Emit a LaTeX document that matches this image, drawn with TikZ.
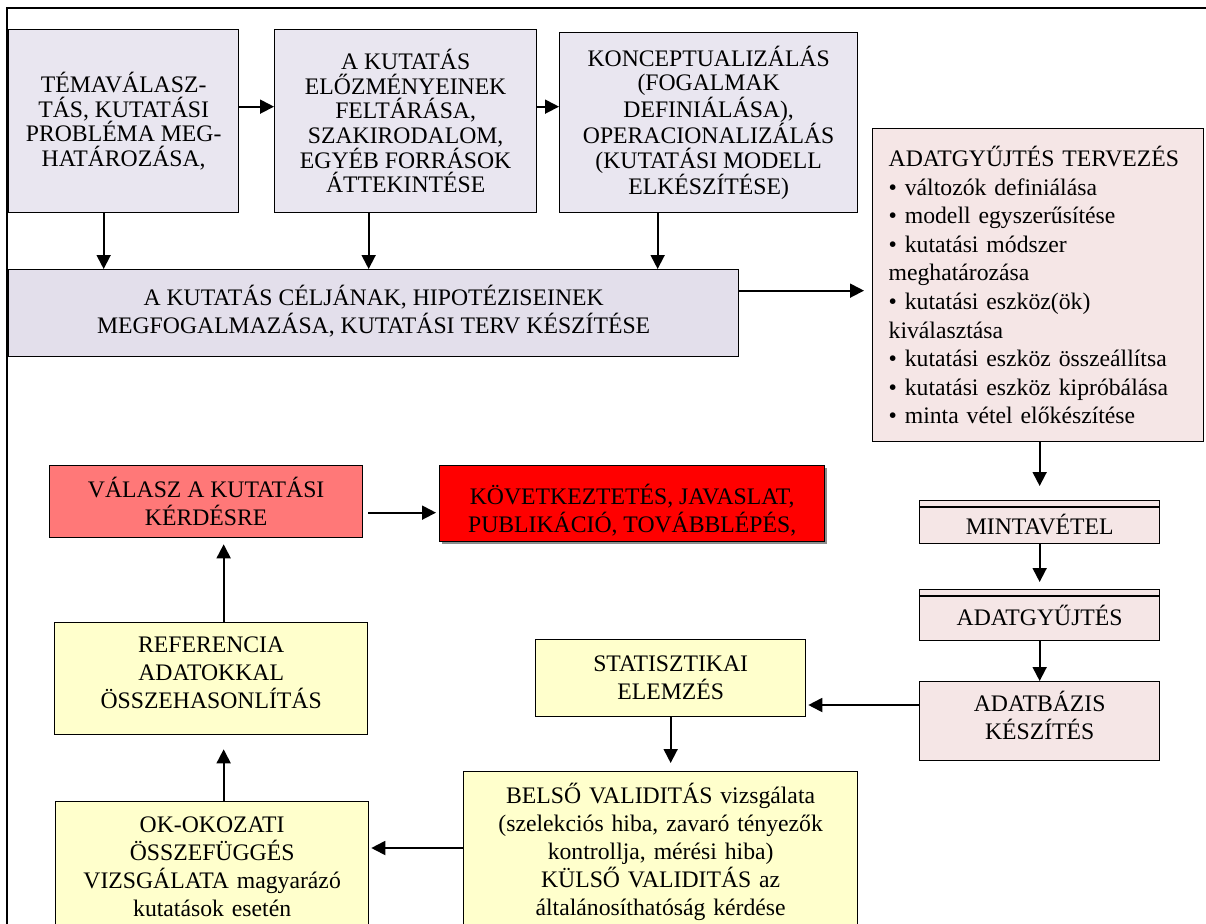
\documentclass[tikz,border=0pt]{standalone}
\usepackage{fontspec}
\setmainfont{Liberation Serif}
\usetikzlibrary{arrows.meta,shadows}
\definecolor{lavtop}{HTML}{E9E6F0}
\definecolor{lavbig}{HTML}{E3DFEB}
\definecolor{rose}{HTML}{F5E6E6}
\definecolor{salmon}{HTML}{FF7878}
\definecolor{alarm}{HTML}{FF0000}
\definecolor{cream}{HTML}{FFFFCC}
% invisible struts that move a centred text block up (depth) or down (height)
\newcommand{\lowstrut}[1]{\rule[-#1]{0pt}{0pt}}
\newcommand{\highstrut}[1]{\rule{0pt}{#1}}
\begin{document}
\begin{tikzpicture}[x=1pt,y=1pt,
  box/.style={draw=black, line width=1.3pt, inner sep=0pt, anchor=north west,
    align=center, font=\fontsize{23.7}{28}\selectfont},
  topbox/.style={box, fill=lavtop, font=\fontsize{23.7}{24.7}\selectfont},
  plan/.style={box, fill=rose},
  note/.style={box, fill=cream},
  arr/.style={line width=1.8pt, -{Triangle[length=14pt,width=14pt]}},
  frame/.style={line width=1.6pt},
]
\useasboundingbox (0,0) rectangle (1206,-923);
\clip (0,0) rectangle (1206,-923);
\draw[frame] (7,-940) -- (7,-8) -- (1220,-8);

% first row: preparation steps
\node[topbox, minimum width=230pt, minimum height=183pt] (b1) at (8,-29)
  {TÉMAVÁLASZ-\\TÁS, KUTATÁSI\\PROBLÉMA MEG-\\HATÁROZÁSA,};
\node[topbox, minimum width=262pt, minimum height=183pt] (b2) at (274,-29)
  {A KUTATÁS\\ELŐZMÉNYEINEK\\FELTÁRÁSA,\\SZAKIRODALOM,\\EGYÉB FORRÁSOK\\ÁTTEKINTÉSE};
\node[topbox, minimum width=298pt, minimum height=180pt] (b3) at (559,-32)
  {KONCEPTUALIZÁLÁS\\(FOGALMAK\\DEFINIÁLÁSA),\\OPERACIONALIZÁLÁS\\(KUTATÁSI MODELL\\ELKÉSZÍTÉSE)};
\node[box, fill=lavbig, minimum width=730pt, minimum height=87pt] (goal) at (8,-269)
  {A KUTATÁS CÉLJÁNAK, HIPOTÉZISEINEK\\MEGFOGALMAZÁSA, KUTATÁSI TERV KÉSZÍTÉSE\lowstrut{8pt}};

% data collection column
\node[plan, align=left, text width=299pt, minimum width=331pt, minimum height=313pt,
  font=\fontsize{23.7}{28.6}\selectfont] (design) at (872,-128)
  {ADATGYŰJTÉS TERVEZÉS\\• változók definiálása\\• modell egyszerűsítése\\• kutatási módszer\\meghatározása\\• kutatási eszköz(ök)\\kiválasztása\\• kutatási eszköz összeállítsa\\• kutatási eszköz kipróbálása\\• minta vétel előkészítése};
\node[plan, minimum width=240pt, minimum height=43pt, text height=25pt, text depth=0pt] (minta) at (919,-500) {MINTAVÉTEL};
\draw[line width=1.3pt] ([yshift=-7pt]minta.north west) -- ([yshift=-7pt]minta.north east);
\node[plan, minimum width=240pt, minimum height=51pt, text height=25pt, text depth=5pt] (adat) at (919,-589) {ADATGYŰJTÉS};
\draw[line width=1.3pt] ([yshift=-7pt]adat.north west) -- ([yshift=-7pt]adat.north east);
\node[plan, minimum width=240pt, minimum height=79pt] (db) at (919,-681) {ADATBÁZIS\\KÉSZÍTÉS\lowstrut{12pt}};

% analysis
\node[note, minimum width=270pt, minimum height=77pt] (stat) at (535,-639) {STATISZTIKAI\\ELEMZÉS};
\node[note, text width=380pt, inner xsep=7pt, inner ysep=3pt, text height=29pt, text depth=150pt] (belso) at (463,-771)
  {BELSŐ VALIDITÁS vizsgálata\\(szelekciós hiba, zavaró tényezők\\kontrollja, mérési hiba)\\KÜLSŐ VALIDITÁS az\\általánosíthatóság kérdése};
\node[note, text width=300pt, inner xsep=6.5pt, inner ysep=5pt, text height=26pt, text depth=150pt] (ok) at (55,-801)
  {OK-OKOZATI\\ÖSSZEFÜGGÉS\\VIZSGÁLATA magyarázó\\kutatások esetén};
\node[note, minimum width=313pt, minimum height=112pt] (ref) at (54,-622)
  {REFERENCIA\\ADATOKKAL\\ÖSSZEHASONLÍTÁS\lowstrut{13pt}};

% conclusions
\node[box, fill=salmon, minimum width=313pt, minimum height=72pt] (val) at (49,-465)
  {VÁLASZ A KUTATÁSI\\KÉRDÉSRE};
\node[box, fill=alarm, minimum width=385pt, minimum height=76pt,
  drop shadow={shadow xshift=2pt, shadow yshift=-2pt, fill=black!45, opacity=1}] (kov) at (439,-465)
  {\highstrut{34pt}KÖVETKEZTETÉS, JAVASLAT,\\PUBLIKÁCIÓ, TOVÁBBLÉPÉS,};

% connectors
\draw[arr] ([yshift=14.5pt]b1.east) -- ([yshift=14.5pt]b1.east -| b2.west);
\draw[arr] ([yshift=14.5pt]b2.east) -- ([yshift=14.5pt]b2.east -| b3.west);
\draw[arr] ([xshift=-20pt]b1.south) -- ([xshift=-20pt]b1.south |- goal.north);
\draw[arr] ([xshift=-37pt]b2.south) -- ([xshift=-37pt]b2.south |- goal.north);
\draw[arr] ([xshift=-51pt]b3.south) -- ([xshift=-51pt]b3.south |- goal.north);
\draw[arr, shorten >=8pt] ([yshift=22.5pt]goal.east) -- ([yshift=22.5pt]goal.east -| design.west);
\draw[arr, shorten >=14pt] (design.south -| minta.north) -- (minta.north);
\draw[arr, shorten >=7pt] (minta.south) -- (adat.north);
\draw[arr] (adat.south) -- (db.north);
\draw[arr, shorten >=2pt] ([yshift=-24pt]db.north west) -- ([yshift=-24pt]db.north west -| stat.east);
\draw[arr, shorten >=8pt] (stat.south) -- (stat.south |- belso.north);
\draw[arr, shorten >=2pt] ([yshift=-77pt]belso.north west) -- ([yshift=-77pt]belso.north west -| ok.east);
\draw[arr, shorten >=14pt] ([xshift=11.5pt]ok.north) -- ([xshift=11.5pt]ok.north |- ref.south);
\draw[arr, shorten >=6pt] ([xshift=12.5pt]ref.north) -- ([xshift=12.5pt]ref.north |- val.south);
\draw[arr, shorten <=5pt, shorten >=3pt] ([yshift=-11pt]val.east) -- ([yshift=-11pt]val.east -| kov.west);
\end{tikzpicture}
\end{document}
